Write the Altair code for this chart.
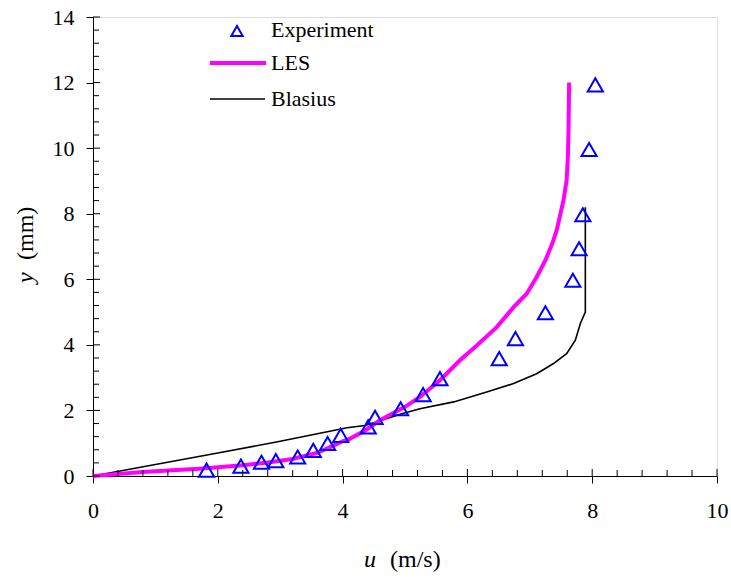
import altair as alt
import pandas as pd

# Experiment (triangles)
exp_u = [1.82, 2.37, 2.70, 2.93, 3.28, 3.53, 3.76, 3.97, 4.41, 4.52, 4.93, 5.29, 5.56, 6.51, 6.77, 7.25, 7.69, 7.79, 7.85, 7.95, 8.05]
exp_y = [0.18, 0.30, 0.42, 0.47, 0.58, 0.78, 0.99, 1.24, 1.50, 1.79, 2.05, 2.48, 2.97, 3.58, 4.19, 4.98, 5.97, 6.93, 7.97, 9.96, 11.93]

# LES profile
les_u = [0, 0.4, 0.8, 1.2, 1.7, 2.0, 2.4, 2.8, 3.2, 3.6, 3.8, 4.0, 4.1, 4.36, 4.6, 5.0, 5.24, 5.56, 5.88, 6.15, 6.47, 6.74, 6.95, 7.11, 7.25, 7.36, 7.43, 7.54, 7.59, 7.61, 7.62, 7.63]
les_y = [0, 0.06, 0.12, 0.17, 0.22, 0.27, 0.33, 0.41, 0.52, 0.71, 0.88, 1.06, 1.12, 1.39, 1.70, 2.11, 2.41, 2.92, 3.53, 3.98, 4.54, 5.15, 5.56, 6.07, 6.58, 7.09, 7.49, 8.41, 9.02, 9.73, 10.5, 12.0]

# Blasius profile
bla_u = [0, 1.0, 2.0, 3.0, 4.07, 4.36, 4.95, 5.24, 5.78, 6.31, 6.74, 7.11, 7.38, 7.59, 7.73, 7.81, 7.89, 7.89]
bla_y = [0, 0.35, 0.70, 1.06, 1.47, 1.54, 1.90, 2.05, 2.26, 2.56, 2.82, 3.12, 3.43, 3.73, 4.14, 4.65, 5.00, 8.20]

series_names = ["Experiment", "LES", "Blasius"]

x_major = [0, 2, 4, 6, 8, 10]
y_major = [0, 2, 4, 6, 8, 10, 12, 14]
x_minor = [round(i * 0.4, 1) for i in range(26) if i % 5 != 0]
y_minor = [round(i * 0.4, 1) for i in range(36) if i % 5 != 0]

FONT = "Liberation Serif"
W, H = 624, 459

exp_df = pd.DataFrame({"u": exp_u, "y": exp_y})
les_df = pd.DataFrame({"u": les_u, "y": les_y, "o": range(len(les_u))})
bla_df = pd.DataFrame({"u": bla_u, "y": bla_y, "o": range(len(bla_u))})

xs = alt.Scale(domain=[0, 10], nice=False, zero=False)
ys = alt.Scale(domain=[0, 14], nice=False, zero=False)

xaxis = alt.Axis(values=x_major, format="d", tickSize=7, tickColor="black", tickWidth=1,
                 domainColor="black", domainWidth=1, grid=False, title=None,
                 labelFont=FONT, labelFontSize=22, labelColor="black", labelPadding=17,
                 labelFlush=False, labelOverlap=False)
yaxis = alt.Axis(values=y_major, format="d", tickSize=7, tickColor="black", tickWidth=1,
                 domainColor="black", domainWidth=1, grid=False, title=None,
                 labelFont=FONT, labelFontSize=22, labelColor="black", labelPadding=12,
                 labelFlush=False, labelOverlap=False)

bla = alt.Chart(bla_df).mark_line(color="black", strokeWidth=1.6).encode(
    x=alt.X("u:Q", scale=xs, axis=xaxis),
    y=alt.Y("y:Q", scale=ys, axis=yaxis),
    order="o:Q",
)
les = alt.Chart(les_df).mark_line(color="#FF00FF", strokeWidth=4).encode(
    x=alt.X("u:Q", scale=xs, axis=xaxis), y=alt.Y("y:Q", scale=ys, axis=yaxis), order="o:Q"
)
pts = alt.Chart(exp_df).mark_point(shape="triangle-up", filled=False, color="#0000FF",
                                   strokeWidth=2, size=230, opacity=1).encode(
    x=alt.X("u:Q", scale=xs, axis=xaxis), y=alt.Y("y:Q", scale=ys, axis=yaxis)
)

# inner tick marks
xmaj_df = pd.DataFrame({"v": x_major})
ymaj_df = pd.DataFrame({"v": y_major})
xmin_df = pd.DataFrame({"v": x_minor})
ymin_df = pd.DataFrame({"v": y_minor})

xmaj_in = alt.Chart(xmaj_df).mark_rule(color="black", strokeWidth=1).encode(
    x=alt.X("v:Q", scale=xs, axis=xaxis), y=alt.value(H), y2=alt.value(H - 7))
xmin_in = alt.Chart(xmin_df).mark_rule(color="black", strokeWidth=1).encode(
    x=alt.X("v:Q", scale=xs, axis=xaxis), y=alt.value(H), y2=alt.value(H - 6))
ymaj_in = alt.Chart(ymaj_df).mark_rule(color="black", strokeWidth=1).encode(
    y=alt.Y("v:Q", scale=ys, axis=yaxis), x=alt.value(0), x2=alt.value(7))
ymin_in = alt.Chart(ymin_df).mark_rule(color="black", strokeWidth=1).encode(
    y=alt.Y("v:Q", scale=ys, axis=yaxis), x=alt.value(0), x2=alt.value(6))

# legend
one = pd.DataFrame({"a": [0]})
leg_tri = alt.Chart(one).mark_point(shape="triangle-up", filled=False, color="#0000FF",
                                    strokeWidth=2, size=130, opacity=1).encode(
    x=alt.value(144), y=alt.value(14))
leg_les = alt.Chart(one).mark_rule(color="#FF00FF", strokeWidth=4).encode(
    x=alt.value(117), x2=alt.value(173), y=alt.value(46))
leg_bla = alt.Chart(one).mark_rule(color="black", strokeWidth=1.6).encode(
    x=alt.value(117), x2=alt.value(172), y=alt.value(82))
leg_y = [19.5, 53, 88.5]
leg_txt = [
    alt.Chart(one).mark_text(text=name, font=FONT, fontSize=22, align="left",
                             baseline="alphabetic", color="black").encode(
        x=alt.value(178), y=alt.value(ty))
    for name, ty in zip(series_names, leg_y)
]

# axis titles
xt_u = alt.Chart(one).mark_text(text="u", font=FONT, fontSize=24, fontStyle="italic",
                                align="center", baseline="alphabetic", color="black").encode(
    x=alt.value(277), y=alt.value(550))
xt_r = alt.Chart(one).mark_text(text="(m/s)", font=FONT, fontSize=24,
                                align="left", baseline="alphabetic", color="black").encode(
    x=alt.value(297), y=alt.value(550))
yt_y = alt.Chart(one).mark_text(text="y", font=FONT, fontSize=24, fontStyle="italic", angle=270,
                                align="left", baseline="alphabetic", color="black").encode(
    x=alt.value(-60), y=alt.value(266))
yt_r = alt.Chart(one).mark_text(text="(mm)", font=FONT, fontSize=24, angle=270,
                                align="left", baseline="alphabetic", color="black").encode(
    x=alt.value(-60), y=alt.value(243))

chart = alt.layer(
    bla, les, pts, xmaj_in, xmin_in, ymaj_in, ymin_in,
    leg_tri, leg_les, leg_bla, *leg_txt, xt_u, xt_r, yt_y, yt_r
).properties(
    width=W, height=H,
    autosize=alt.AutoSizeParams(type="none"),
    padding={"left": 93, "top": 17, "right": 14, "bottom": 101},
).configure_view(stroke=None).configure(background="white")

chart.save("out.html", embed_options={"renderer": "svg", "actions": False})
